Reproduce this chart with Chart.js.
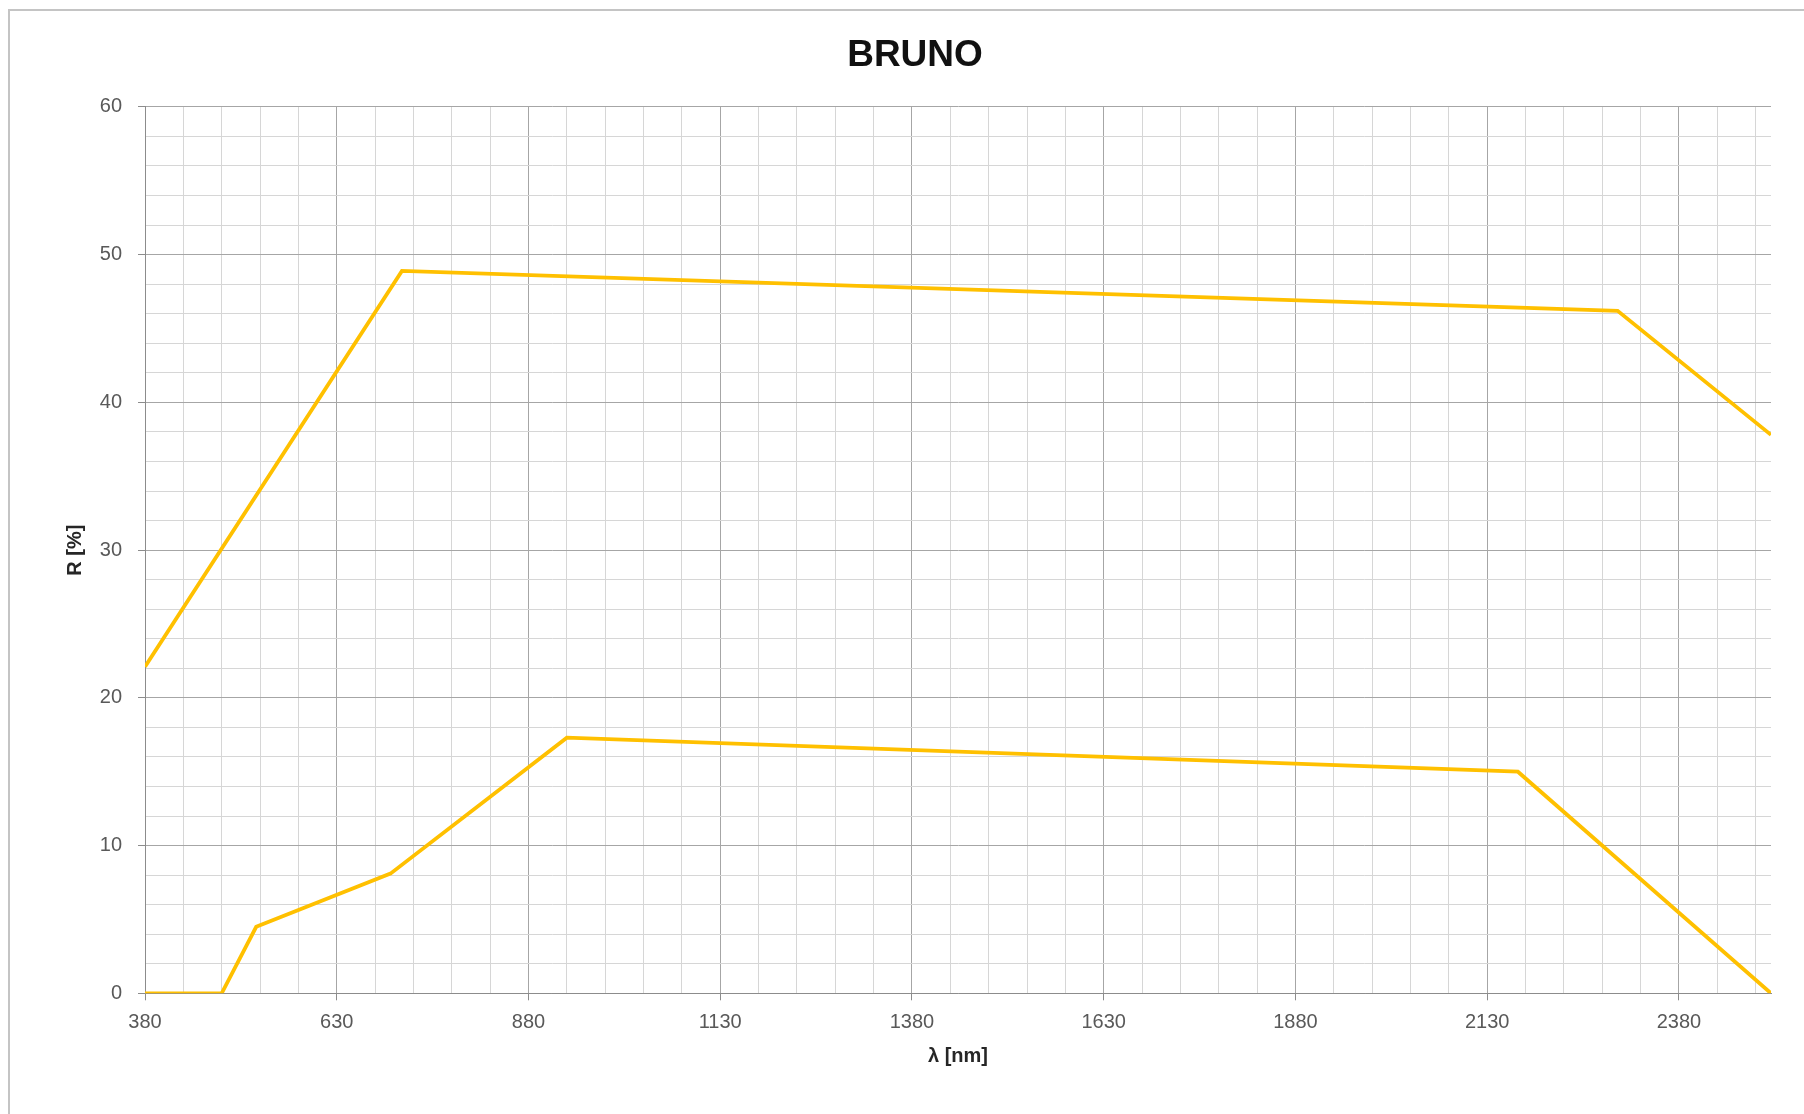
<!DOCTYPE html>
<html>
<head>
<meta charset="utf-8">
<script src="https://cdn.jsdelivr.net/npm/chart.js@4/dist/chart.umd.min.js"></script>
<style>
  html, body { margin: 0; padding: 0; background: #fff; overflow: hidden; }
  #frame {
    position: absolute; left: 8px; top: 9px; width: 1900px; height: 1200px;
    border: 2px solid #c4c4c4; box-sizing: border-box;
  }
  #myChart { position: absolute; left: 0; top: 0; }
</style>
</head>
<body>
<div id="frame"></div>
<canvas id="myChart" width="1804" height="1114"></canvas>
<script>
// wavelengths [nm] and reflectance [%]
const upperX = [380, 715, 2300, 2500];
const upperY = [22.1, 48.9, 46.2, 37.8];

const lowerX = [380, 480, 525, 700, 930, 2170, 2500];
const lowerY = [0, 0, 4.5, 8.1, 17.3, 15.0, 0];

const xTickLabels = [380, 630, 880, 1130, 1380, 1630, 1880, 2130, 2380];
const yTickLabels = [0, 10, 20, 30, 40, 50, 60];

const xMin = 380, xMax = 2500, xMinorStep = 50;
const yMin = 0, yMax = 60, yMinorStep = 2;

const lineColor = "#FFC000";
const majorGrid = "#a6a6a6";
const minorGrid = "#d6d6d6";
const tickFont = { family: "'Liberation Sans', Arial, sans-serif", size: 20 };

function toPoints(xs, ys) {
  return xs.map((x, i) => ({ x: x, y: ys[i] }));
}

const isMajorX = (v) => xTickLabels.includes(v);
const isMajorY = (v) => yTickLabels.includes(v);

window.addEventListener("load", function () {
  // Setup Block
  const data = {
    datasets: [
      {
        label: "upper",
        data: toPoints(upperX, upperY),
        borderColor: lineColor,
        borderWidth: 3.8,
        pointRadius: 0,
        tension: 0,
      },
      {
        label: "lower",
        data: toPoints(lowerX, lowerY),
        borderColor: lineColor,
        borderWidth: 3.8,
        pointRadius: 0,
        tension: 0,
      },
    ],
  };

  // Config block
  const config = {
    type: "line",
    data,
    options: {
      responsive: false,
      animation: false,
      layout: { padding: { left: 59, right: 33, top: 0, bottom: 0 } },
      plugins: {
        legend: { display: false },
        tooltip: { enabled: false },
        title: {
          display: true,
          text: "BRUNO",
          color: "#111",
          font: { family: "'Liberation Sans', Arial, sans-serif", size: 37, weight: "bold", lineHeight: 1.2 },
          padding: { top: 33.5, bottom: 29 },
        },
      },
      scales: {
        x: {
          type: "linear",
          min: xMin,
          max: xMax,
          afterBuildTicks: (scale) => {
            const ticks = [];
            for (let v = xMin; v < xMax; v += xMinorStep) ticks.push({ value: v });
            scale.ticks = ticks;
          },
          afterFit: (scale) => { scale.height = 120.7; },
          ticks: {
            autoSkip: false,
            maxRotation: 0,
            padding: 10,
            color: "#595959",
            font: tickFont,
            callback: (v) => (isMajorX(v) ? String(v) : ""),
          },
          grid: {
            color: (ctx) => (isMajorX(ctx.tick.value) ? majorGrid : minorGrid),
            tickColor: (ctx) => (isMajorX(ctx.tick.value) ? "#8c8c8c" : "rgba(0,0,0,0)"),
            tickLength: 7,
            lineWidth: 1,
          },
          border: { display: true, color: "#8c8c8c", width: 1 },
          title: {
            display: true,
            text: "λ [nm]",
            color: "#262626",
            font: { family: "'Liberation Sans', Arial, sans-serif", size: 20, weight: "bold", lineHeight: 1.2 },
            padding: { top: 0, bottom: 46 },
          },
        },
        y: {
          min: yMin,
          max: yMax,
          afterFit: (scale) => { scale.width = 86; },
          ticks: {
            stepSize: yMinorStep,
            autoSkip: false,
            padding: 16,
            color: "#595959",
            font: tickFont,
            callback: (v) => (isMajorY(v) ? String(v) : ""),
          },
          grid: {
            color: (ctx) => (isMajorY(ctx.tick.value) ? majorGrid : minorGrid),
            tickColor: (ctx) => (isMajorY(ctx.tick.value) ? "#8c8c8c" : "rgba(0,0,0,0)"),
            tickLength: 7,
            lineWidth: 1,
          },
          border: { display: true, color: "#8c8c8c", width: 1 },
          title: {
            display: true,
            text: "R [%]",
            color: "#262626",
            font: { family: "'Liberation Sans', Arial, sans-serif", size: 20, weight: "bold", lineHeight: 1.2 },
            padding: { top: 4, bottom: 0 },
          },
        },
      },
    },
  };

  // Render init Block
  const myChart = new Chart(document.getElementById("myChart"), config);
});
</script>
</body>
</html>
